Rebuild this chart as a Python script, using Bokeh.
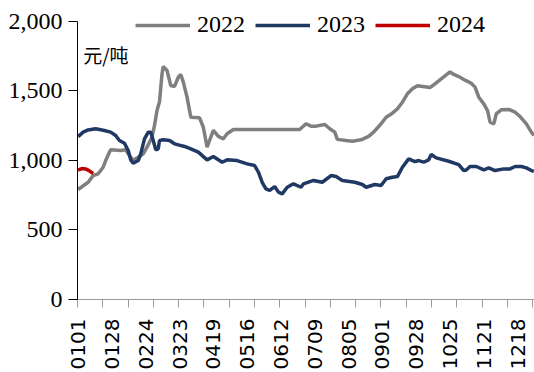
import math
from datetime import date, timedelta
from bokeh.plotting import figure
from bokeh.models import (Range1d, FixedTicker, NumeralTickFormatter, Legend,
                          LegendItem, Label)
from bokeh.embed import file_html
from bokeh.resources import INLINE

# ---- categories (MMDD of a non-leap year) ----
categories = [(date(2023, 1, 1) + timedelta(days=k)).strftime("%m%d") for k in range(365)]
tick_labels = ["0101", "0128", "0224", "0323", "0419", "0516", "0612", "0709",
               "0805", "0901", "0928", "1025", "1121", "1218"]
y_ticks = [0, 500, 1000, 1500, 2000]
unit_text = "元/吨"

# ---- series ----
dates_2022 = ["0101", "0109", "0113", "0117", "0121", "0123", "0126", "0127", "0204", "0208",
              "0211", "0214", "0218", "0222", "0225", "0301", "0303", "0305", "0307", "0309",
              "0310", "0313", "0316", "0319", "0322", "0324", "0326", "0329", "0401", "0408",
              "0411", "0414", "0416", "0419", "0423", "0427", "0430", "0505", "0627", "0702",
              "0706", "0710", "0717", "0721", "0725", "0727", "0803", "0808", "0815", "0821",
              "0825", "0831", "0904", "0909", "0913", "0917", "0921", "0925", "0929", "1009",
              "1013", "1018", "1025", "1028", "1101", "1106", "1111", "1114", "1117", "1121",
              "1124", "1126", "1129", "1201", "1205", "1211", "1216", "1220", "1225", "1229",
              "1231"]
values_2022 = [790, 842, 890, 903, 950, 998, 1058, 1075, 1070, 1075,
               1034, 1000, 1022, 1046, 1094, 1166, 1250, 1357, 1420, 1621,
               1673, 1645, 1537, 1530, 1596, 1616, 1561, 1453, 1309, 1305,
               1237, 1094, 1142, 1214, 1171, 1154, 1190, 1221, 1221, 1262,
               1245, 1245, 1257, 1226, 1202, 1150, 1142, 1137, 1147, 1171,
               1202, 1262, 1309, 1338, 1369, 1417, 1477, 1513, 1535, 1522,
               1549, 1585, 1635, 1616, 1601, 1575, 1553, 1525, 1453, 1405,
               1357, 1273, 1262, 1334, 1362, 1365, 1345, 1314, 1262, 1202,
               1178]

dates_2023 = ["0101", "0105", "0109", "0115", "0122", "0127", "0131", "0203", "0207", "0210",
              "0212", "0214", "0218", "0220", "0223", "0226", "0228", "0302", "0304", "0306",
              "0307", "0310", "0315", "0319", "0327", "0401", "0407", "0414", "0419", "0426",
              "0430", "0508", "0516", "0522", "0525", "0528", "0531", "0603", "0607", "0610",
              "0613", "0617", "0622", "0628", "0630", "0708", "0715", "0722", "0726", "0731",
              "0810", "0816", "0819", "0826", "0831", "0904", "0909", "0913", "0917", "0922",
              "0927", "0930", "1004", "1008", "1010", "1014", "1024", "1101", "1105", "1107",
              "1110", "1115", "1121", "1125", "1130", "1207", "1212", "1216", "1221", "1225",
              "1229", "1231"]
values_2023 = [1170, 1202, 1218, 1226, 1214, 1202, 1178, 1142, 1122, 1070,
               1003, 979, 998, 1046, 1154, 1202, 1202, 1142, 1075, 1082,
               1142, 1147, 1142, 1118, 1099, 1082, 1058, 1003, 1027, 986,
               1003, 998, 974, 962, 914, 842, 795, 783, 811, 771,
               759, 806, 831, 806, 831, 855, 842, 890, 883, 855,
               842, 826, 806, 826, 819, 867, 878, 883, 950, 1010,
               990, 998, 986, 1003, 1041, 1017, 993, 969, 926, 930,
               955, 955, 931, 945, 926, 938, 938, 955, 955, 945,
               926, 921]

dates_2024 = ["0101", "0104", "0107", "0110", "0113"]
values_2024 = [930, 940, 938, 924, 905]

color_2022 = "#7F7F7F"
color_2023 = "#1F3864"
color_2024 = "#C00000"

idx = {c: i for i, c in enumerate(categories)}

p = figure(width=534, height=372, output_backend="svg", toolbar_location=None,
           x_range=Range1d(-0.5, 364.5), y_range=Range1d(0, 2133),
           min_border_left=77, min_border_right=0, min_border_top=2,
           min_border_bottom=73)
p.outline_line_color = None
p.xgrid.visible = False
p.ygrid.visible = False
p.background_fill_color = "white"
p.border_fill_color = "white"

r22 = p.line([idx[d] for d in dates_2022], values_2022, line_color=color_2022, line_width=3.5)
r23 = p.line([idx[d] for d in dates_2023], values_2023, line_color=color_2023, line_width=3.5)
r24 = p.line([idx[d] for d in dates_2024], values_2024, line_color=color_2024, line_width=3.5)

# x axis: labels every 27 days, tick marks at their own interval
xa = p.xaxis[0]
xa.ticker = FixedTicker(ticks=[idx[t] for t in tick_labels],
                        minor_ticks=[-0.5 + k * 20.2 for k in range(19)])
xa.major_label_overrides = {idx[t]: t for t in tick_labels}
xa.major_label_orientation = math.pi / 2
xa.major_tick_out = 0
xa.major_tick_in = 0
xa.minor_tick_out = 8
xa.minor_tick_in = 0
xa.minor_tick_line_color = "#999999"
xa.axis_line_color = "#999999"
xa.major_label_standoff = 11
xa.major_label_text_font = "DejaVu Sans"
xa.major_label_text_font_size = "20px"
xa.major_label_text_color = "black"

ya = p.yaxis[0]
ya.ticker = FixedTicker(ticks=y_ticks)
ya.bounds = (0, 2000)
ya.formatter = NumeralTickFormatter(format="0,0")
ya.major_tick_out = 9
ya.major_tick_in = 0
ya.minor_tick_out = 0
ya.minor_tick_in = 0
ya.axis_line_color = "black"
ya.major_tick_line_color = "black"
ya.major_label_standoff = 6
ya.major_label_text_font = "Liberation Serif"
ya.major_label_text_font_size = "24px"
ya.major_label_text_color = "black"

legend = Legend(items=[LegendItem(label="2022", renderers=[r22]),
                       LegendItem(label="2023", renderers=[r23]),
                       LegendItem(label="2024", renderers=[r24])],
                orientation="horizontal", location=(58, 261),
                glyph_width=55, glyph_height=24, label_height=24, label_standoff=7,
                spacing=10, padding=0, margin=0,
                border_line_alpha=0, background_fill_alpha=0,
                label_text_font="Liberation Serif", label_text_font_size="24px",
                label_text_color="black")
p.add_layout(legend)

p.add_layout(Label(x=4, y=1760, text=unit_text, text_font="Noto Sans CJK SC",
                   text_font_size="19px", text_baseline="middle", text_align="left",
                   text_color="black"))

open("out.html", "w").write(file_html(p, INLINE))
